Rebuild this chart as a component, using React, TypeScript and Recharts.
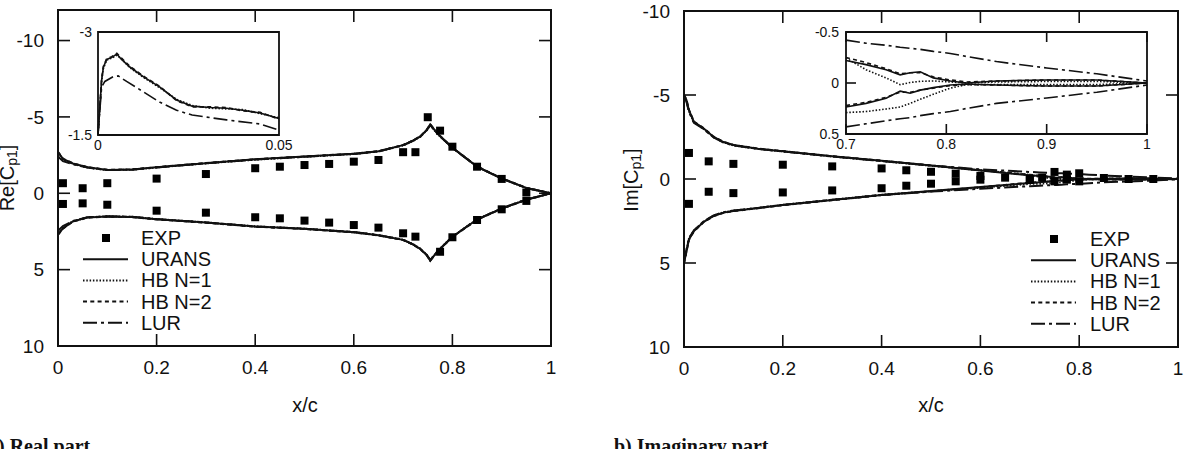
import React from 'react'
import { ComposedChart, Line, Scatter, XAxis, YAxis, CartesianGrid, ReferenceArea } from 'recharts'

const FONT = '"Liberation Sans", Arial, Helvetica, sans-serif'
const SERIF = '"Liberation Serif", "Times New Roman", serif'
const INK = '#111'

// ---- a) real part: chordwise stations and Re[Cp1] for each method ----
const RE_X = [0, 0.01, 0.03, 0.06, 0.1, 0.15, 0.2, 0.3, 0.4, 0.5, 0.6, 0.65, 0.7, 0.72, 0.735, 0.748, 0.755, 0.77, 0.8, 0.85, 0.9, 0.95, 1]
const RE_URANS_UP = [-2.7, -2.25, -1.95, -1.7, -1.53, -1.55, -1.7, -1.97, -2.22, -2.4, -2.58, -2.75, -3.15, -3.45, -3.72, -4.15, -4.5, -3.9, -2.98, -1.75, -0.97, -0.35, 0]
const RE_URANS_LO = [2.7, 2.3, 1.85, 1.58, 1.52, 1.55, 1.7, 1.92, 2.18, 2.33, 2.55, 2.75, 3.05, 3.35, 3.65, 4.05, 4.4, 3.8, 2.85, 1.72, 1.0, 0.42, 0]
const RE_HB1_UP = [-2.65, -2.22, -1.93, -1.68, -1.52, -1.54, -1.69, -1.96, -2.2, -2.39, -2.57, -2.74, -3.13, -3.43, -3.7, -4.12, -4.46, -3.88, -2.97, -1.74, -0.96, -0.34, 0]
const RE_HB1_LO = [2.65, 2.27, 1.83, 1.57, 1.51, 1.54, 1.69, 1.91, 2.17, 2.32, 2.54, 2.74, 3.04, 3.33, 3.63, 4.03, 4.37, 3.78, 2.84, 1.71, 0.99, 0.41, 0]
const RE_HB2_UP = [-2.72, -2.27, -1.96, -1.71, -1.54, -1.56, -1.71, -1.98, -2.23, -2.41, -2.59, -2.76, -3.16, -3.46, -3.73, -4.16, -4.52, -3.91, -2.99, -1.76, -0.98, -0.36, 0]
const RE_HB2_LO = [2.72, 2.32, 1.86, 1.59, 1.53, 1.56, 1.71, 1.93, 2.19, 2.34, 2.56, 2.76, 3.06, 3.36, 3.66, 4.06, 4.42, 3.81, 2.86, 1.73, 1.01, 0.43, 0]
const RE_LUR_UP = [-2.4, -2.1, -1.9, -1.68, -1.52, -1.54, -1.69, -1.96, -2.21, -2.39, -2.57, -2.74, -3.14, -3.44, -3.71, -4.13, -4.47, -3.89, -2.97, -1.74, -0.96, -0.34, 0]
const RE_LUR_LO = [2.45, 2.15, 1.82, 1.57, 1.51, 1.54, 1.69, 1.91, 2.17, 2.32, 2.54, 2.74, 3.04, 3.34, 3.64, 4.04, 4.38, 3.79, 2.84, 1.71, 0.99, 0.41, 0]

const RE_EXP_UP_X = [0.01, 0.05, 0.1, 0.2, 0.3, 0.4, 0.45, 0.5, 0.55, 0.6, 0.65, 0.7, 0.725, 0.75, 0.775, 0.8, 0.85, 0.9, 0.95]
const RE_EXP_UP = [-0.66, -0.33, -0.66, -0.96, -1.26, -1.64, -1.74, -1.85, -1.92, -2.07, -2.18, -2.69, -2.69, -4.98, -4.1, -3.05, -1.74, -0.94, -0.05]
const RE_EXP_LO_X = [0.01, 0.05, 0.1, 0.2, 0.3, 0.4, 0.45, 0.5, 0.55, 0.6, 0.65, 0.7, 0.725, 0.775, 0.8, 0.85, 0.9, 0.95]
const RE_EXP_LO = [0.7, 0.66, 0.75, 1.14, 1.27, 1.57, 1.64, 1.79, 1.92, 2.08, 2.25, 2.62, 2.84, 3.83, 2.88, 1.75, 1.05, 0.5]

// leading-edge zoom (upper surface)
const LE_X = [0, 0.001, 0.0015, 0.0024, 0.0038, 0.0052, 0.0065, 0.0088, 0.0125, 0.017, 0.0217, 0.026, 0.031, 0.0355, 0.04, 0.0448, 0.05]
const LE_URANS = [-1.5, -2.3, -2.49, -2.6, -2.63, -2.68, -2.6, -2.49, -2.35, -2.2, -2.01, -1.92, -1.9, -1.89, -1.86, -1.82, -1.74]
const LE_HB1 = [-1.5, -2.28, -2.47, -2.59, -2.62, -2.66, -2.61, -2.48, -2.34, -2.19, -2.02, -1.93, -1.89, -1.88, -1.87, -1.81, -1.75]
const LE_HB2 = [-1.5, -2.32, -2.5, -2.61, -2.64, -2.69, -2.62, -2.5, -2.36, -2.21, -2.0, -1.91, -1.91, -1.9, -1.85, -1.83, -1.73]
const LE_LUR_X = [0, 0.001, 0.0019, 0.0042, 0.0056, 0.0079, 0.0125, 0.017, 0.0217, 0.026, 0.0355, 0.0448, 0.05]
const LE_LUR = [-1.5, -2.2, -2.28, -2.35, -2.36, -2.28, -2.13, -1.98, -1.86, -1.79, -1.72, -1.66, -1.57]

// ---- b) imaginary part ----
const IM_X = [0, 0.005, 0.01, 0.02, 0.04, 0.06, 0.08, 0.1, 0.15, 0.2, 0.3, 0.4, 0.5, 0.6, 0.7, 0.72, 0.74, 0.754, 0.764, 0.774, 0.787, 0.804, 0.82, 0.85, 0.9, 0.95, 1]
const IM_URANS_UP = [-5.0, -4.7, -4.1, -3.4, -3.0, -2.5, -2.2, -2.02, -1.8, -1.65, -1.35, -1.08, -0.8, -0.5, -0.22, -0.18, -0.13, -0.08, -0.1, -0.11, -0.05, -0.02, 0, -0.02, -0.03, -0.03, 0]
const IM_URANS_LO = [5.0, 4.3, 3.6, 3.1, 2.55, 2.2, 2.0, 1.9, 1.73, 1.55, 1.25, 0.95, 0.72, 0.48, 0.235, 0.2, 0.15, 0.08, 0.1, 0.07, 0.045, 0.02, 0.01, 0.02, 0.03, 0.03, 0]
const IM_HB1_UP = [-4.95, -4.65, -4.05, -3.38, -2.98, -2.48, -2.18, -2.0, -1.79, -1.64, -1.34, -1.07, -0.79, -0.52, -0.245, -0.13, -0.05, 0.016, -0.005, -0.016, -0.02, -0.01, 0, -0.01, -0.015, -0.015, 0]
const IM_HB1_LO = [4.95, 4.25, 3.55, 3.08, 2.53, 2.18, 1.98, 1.88, 1.72, 1.54, 1.24, 0.94, 0.73, 0.52, 0.29, 0.28, 0.255, 0.235, 0.2, 0.16, 0.11, 0.05, 0.016, 0.015, 0.015, 0.015, 0]
const IM_HB2_UP = [-5.02, -4.72, -4.12, -3.42, -3.02, -2.52, -2.21, -2.03, -1.81, -1.66, -1.36, -1.09, -0.81, -0.52, -0.25, -0.2, -0.14, -0.09, -0.1, -0.1, -0.06, -0.03, -0.01, -0.02, -0.03, -0.03, 0]
const IM_HB2_LO = [5.02, 4.32, 3.62, 3.12, 2.56, 2.21, 2.01, 1.91, 1.74, 1.56, 1.26, 0.96, 0.73, 0.49, 0.22, 0.19, 0.14, 0.09, 0.09, 0.07, 0.05, 0.025, 0.015, 0.02, 0.03, 0.03, 0]
const IM_LUR_UP = [-4.9, -4.6, -4.0, -3.35, -2.97, -2.47, -2.17, -2.0, -1.79, -1.64, -1.34, -1.07, -0.8, -0.58, -0.42, -0.39, -0.37, -0.35, -0.34, -0.33, -0.31, -0.29, -0.26, -0.21, -0.147, -0.09, -0.02]
const IM_LUR_LO = [4.9, 4.2, 3.52, 3.06, 2.52, 2.17, 1.98, 1.88, 1.72, 1.54, 1.24, 0.95, 0.75, 0.58, 0.43, 0.4, 0.37, 0.35, 0.34, 0.32, 0.3, 0.28, 0.25, 0.2, 0.147, 0.09, 0.02]

const IM_EXP_UP_X = [0.01, 0.05, 0.1, 0.2, 0.3, 0.4, 0.45, 0.5, 0.55, 0.6, 0.65, 0.7, 0.725, 0.75, 0.775, 0.8, 0.85, 0.9, 0.95]
const IM_EXP_UP = [-1.55, -1.05, -0.9, -0.85, -0.75, -0.63, -0.52, -0.43, -0.32, -0.18, -0.08, 0.0, -0.08, -0.42, -0.26, -0.34, -0.06, 0, 0]
const IM_EXP_LO_X = [0.01, 0.05, 0.1, 0.2, 0.3, 0.4, 0.45, 0.5, 0.55, 0.6, 0.7, 0.75, 0.775, 0.8]
const IM_EXP_LO = [1.48, 0.76, 0.84, 0.8, 0.68, 0.55, 0.4, 0.28, 0.14, 0.04, 0.06, 0.14, 0.04, 0.14]

const X_TICKS = [0, 0.2, 0.4, 0.6, 0.8, 1]
const Y_TICKS = [-10, -5, 0, 5, 10]
const TE_TICKS_X = [0.7, 0.8, 0.9, 1]
const TE_TICKS_Y = [-0.5, 0, 0.5]
const LEGEND = ['EXP', 'URANS', 'HB N=1', 'HB N=2', 'LUR']

const DASH: Record<string, string | undefined> = {
  URANS: undefined,
  'HB N=1': '1.5 1.8',
  'HB N=2': '4 3.3',
  LUR: '14 4 3 4',
}

type Pt = { x: number; y: number }
type Series = { name: string; up: Pt[]; lo: Pt[] }

const pts = (xs: number[], ys: number[]): Pt[] => xs.map((x, i) => ({ x, y: ys[i] }))
const tail = (p: Pt[], x0: number) => p.filter((d) => d.x >= x0)

const RE_SERIES: Series[] = [
  { name: 'URANS', up: pts(RE_X, RE_URANS_UP), lo: pts(RE_X, RE_URANS_LO) },
  { name: 'HB N=1', up: pts(RE_X, RE_HB1_UP), lo: pts(RE_X, RE_HB1_LO) },
  { name: 'HB N=2', up: pts(RE_X, RE_HB2_UP), lo: pts(RE_X, RE_HB2_LO) },
  { name: 'LUR', up: pts(RE_X, RE_LUR_UP), lo: pts(RE_X, RE_LUR_LO) },
]
const LE_SERIES = [
  { name: 'URANS', data: pts(LE_X, LE_URANS) },
  { name: 'HB N=1', data: pts(LE_X, LE_HB1) },
  { name: 'HB N=2', data: pts(LE_X, LE_HB2) },
  { name: 'LUR', data: pts(LE_LUR_X, LE_LUR) },
]
const IM_SERIES: Series[] = [
  { name: 'URANS', up: pts(IM_X, IM_URANS_UP), lo: pts(IM_X, IM_URANS_LO) },
  { name: 'HB N=1', up: pts(IM_X, IM_HB1_UP), lo: pts(IM_X, IM_HB1_LO) },
  { name: 'HB N=2', up: pts(IM_X, IM_HB2_UP), lo: pts(IM_X, IM_HB2_LO) },
  { name: 'LUR', up: pts(IM_X, IM_LUR_UP), lo: pts(IM_X, IM_LUR_LO) },
]

const Square = (props: any) => {
  const { cx, cy } = props
  if (cx == null || cy == null) return <g />
  return <rect x={cx - 4} y={cy - 4} width={8} height={8} fill="#000" />
}

type Box = { top: number; bottom: number; left: number; right: number }

// gnuplot-style ticks: inward marks on both opposite edges plus the label
const xTick = (b: Box, len: number, size: number, gap: number) => (props: any) => {
  const { x, payload } = props
  return (
    <g>
      <line x1={x} x2={x} y1={b.bottom} y2={b.bottom - len} stroke={INK} strokeWidth={1.6} />
      <line x1={x} x2={x} y1={b.top} y2={b.top + len} stroke={INK} strokeWidth={1.6} />
      <text x={x} y={b.bottom + gap + size * 0.71} textAnchor="middle" fontFamily={FONT} fontSize={size} fill={INK}>
        {payload.value}
      </text>
    </g>
  )
}
const yTick = (b: Box, len: number, size: number, gap: number) => (props: any) => {
  const { y, payload } = props
  return (
    <g>
      <line x1={b.left} x2={b.left + len} y1={y} y2={y} stroke={INK} strokeWidth={1.6} />
      <line x1={b.right} x2={b.right - len} y1={y} y2={y} stroke={INK} strokeWidth={1.6} />
      <text x={b.left - gap} y={y + size * 0.355} textAnchor="end" fontFamily={FONT} fontSize={size} fill={INK}>
        {payload.value}
      </text>
    </g>
  )
}

const curveLines = (series: Series[], width: number) =>
  series.flatMap((s) =>
    [s.up, s.lo].map((d, i) => (
      <Line
        key={`${s.name}-${i}`}
        data={d}
        dataKey="y"
        type="linear"
        stroke={INK}
        strokeWidth={width}
        strokeDasharray={DASH[s.name]}
        dot={false}
        activeDot={false}
        isAnimationActive={false}
      />
    ))
  )

type MainProps = {
  left: number
  box: Box
  yDomain: [number, number]
  series: Series[]
  expUp: Pt[]
  expLo: Pt[]
}

const W = 595
const H = 400

const MainPlot = ({ left, box, yDomain, series, expUp, expLo }: MainProps) => {
  // box is in page pixels; the chart sits at page x = left
  const b = { top: box.top, bottom: box.bottom, left: box.left - left, right: box.right - left }
  return (
    <div style={{ position: 'absolute', left, top: 0 }}>
      <ComposedChart width={W} height={H} margin={{ top: b.top, right: W - b.right, left: 0, bottom: 0 }}>
        <XAxis
          type="number"
          dataKey="x"
          domain={[0, 1]}
          ticks={X_TICKS}
          height={H - b.bottom}
          axisLine={false}
          tickLine={false}
          tick={xTick(b, 12, 19, 15)}
          interval={0}
        />
        <YAxis
          type="number"
          dataKey="y"
          domain={yDomain}
          reversed
          ticks={Y_TICKS}
          width={b.left}
          axisLine={false}
          tickLine={false}
          tick={yTick(b, 12, 19, 14)}
          interval={0}
          allowDataOverflow
        />
        {curveLines(series, 2)}
        <Scatter data={expUp} dataKey="y" shape={Square} isAnimationActive={false} />
        <Scatter data={expLo} dataKey="y" shape={Square} isAnimationActive={false} />
        <ReferenceArea x1={0} x2={1} y1={yDomain[0]} y2={yDomain[1]} fill="none" fillOpacity={0} stroke={INK} strokeWidth={2} ifOverflow="visible" />
      </ComposedChart>
    </div>
  )
}

const insetText = { fontSize: 14, fill: INK, fontFamily: FONT }

// leading-edge detail of the real part
const LeadingEdgeInset = () => (
  <div style={{ position: 'absolute', left: 60, top: 20 }}>
    <ComposedChart width={245} height={140} margin={{ top: 12, right: 26, left: 0, bottom: 0 }}>
      <CartesianGrid horizontal={false} vertical={false} fill="#fff" />
      <XAxis type="number" dataKey="x" domain={[0, 0.05]} ticks={[0, 0.05]} height={25} axisLine={false} tickLine={false} tickSize={0} tickMargin={5} tick={insetText} interval={0} />
      <YAxis type="number" dataKey="y" domain={[-3, -1.5]} reversed ticks={[-3, -1.5]} width={38} axisLine={false} tickLine={false} tickSize={0} tickMargin={6} tick={insetText} interval={0} />
      {LE_SERIES.map((s) => (
        <Line
          key={s.name}
          data={s.data}
          dataKey="y"
          type="linear"
          stroke={INK}
          strokeWidth={1.6}
          strokeDasharray={DASH[s.name]}
          dot={false}
          activeDot={false}
          isAnimationActive={false}
        />
      ))}
      <ReferenceArea x1={0} x2={0.05} y1={-3} y2={-1.5} fill="none" fillOpacity={0} stroke={INK} strokeWidth={1.8} ifOverflow="visible" />
    </ComposedChart>
  </div>
)

// trailing-edge detail of the imaginary part
const TE_BOX: Box = { top: 12, bottom: 114, left: 56, right: 357 }
const TrailingEdgeInset = () => (
  <div style={{ position: 'absolute', left: 790, top: 20 }}>
    <ComposedChart width={370} height={140} margin={{ top: TE_BOX.top, right: 370 - TE_BOX.right, left: 0, bottom: 0 }}>
      <CartesianGrid horizontal={false} vertical={false} fill="#fff" />
      <XAxis type="number" dataKey="x" domain={[0.7, 1]} ticks={TE_TICKS_X} height={140 - TE_BOX.bottom} axisLine={false} tickLine={false} tick={xTick(TE_BOX, 10, 14, 5)} interval={0} />
      <YAxis type="number" dataKey="y" domain={[-0.5, 0.5]} reversed ticks={TE_TICKS_Y} width={TE_BOX.left} axisLine={false} tickLine={false} tick={yTick(TE_BOX, 10, 14, 7)} interval={0} />
      {curveLines(
        IM_SERIES.map((s) => ({ name: s.name, up: tail(s.up, 0.7), lo: tail(s.lo, 0.7) })),
        1.6
      )}
      <ReferenceArea x1={0.7} x2={1} y1={-0.5} y2={0.5} fill="none" fillOpacity={0} stroke={INK} strokeWidth={1.8} ifOverflow="visible" />
    </ComposedChart>
  </div>
)

const LegendBox = ({ markX, textX, top }: { markX: number; textX: number; top: number }) => (
  <g fontFamily={FONT} fontSize={20} fill={INK}>
    {LEGEND.map((name, i) => {
      const y = top + i * 21.2
      return (
        <g key={name}>
          {name === 'EXP' ? (
            <rect x={markX - 4} y={y - 4} width={8} height={8} fill="#000" />
          ) : (
            <line x1={markX - 23} x2={markX + 22} y1={y} y2={y} stroke={INK} strokeWidth={2} strokeDasharray={DASH[name]} />
          )}
          <text x={textX} y={y} dominantBaseline="central">
            {name}
          </text>
        </g>
      )
    })}
  </g>
)

const YTitle = ({ x, y, head }: { x: number; y: number; head: string }) => (
  <text transform={`translate(${x},${y}) rotate(-90)`} textAnchor="middle" dominantBaseline="central" fontFamily={FONT} fontSize={20} fill={INK}>
    {head}[C
    <tspan fontSize={14} dy={5}>
      p1
    </tspan>
    <tspan dy={-5}>]</tspan>
  </text>
)

export default function App() {
  return (
    <div style={{ position: 'fixed', left: 0, top: 0, width: 1190, height: 449, overflow: 'hidden', background: '#fff' }}>
      <MainPlot
        left={0}
        box={{ top: 10, bottom: 346, left: 58, right: 551 }}
        yDomain={[-12, 10]}
        series={RE_SERIES}
        expUp={pts(RE_EXP_UP_X, RE_EXP_UP)}
        expLo={pts(RE_EXP_LO_X, RE_EXP_LO)}
      />
      <MainPlot
        left={595}
        box={{ top: 11, bottom: 347, left: 684, right: 1178 }}
        yDomain={[-10, 10]}
        series={IM_SERIES}
        expUp={pts(IM_EXP_UP_X, IM_EXP_UP)}
        expLo={pts(IM_EXP_LO_X, IM_EXP_LO)}
      />
      <LeadingEdgeInset />
      <TrailingEdgeInset />
      <svg width={1190} height={449} style={{ position: 'absolute', left: 0, top: 0, pointerEvents: 'none' }}>
        <YTitle x={7} y={178} head="Re" />
        <YTitle x={631} y={180} head="Im" />
        <text x={305} y={405} textAnchor="middle" dominantBaseline="central" fontFamily={FONT} fontSize={20} fill={INK}>
          x/c
        </text>
        <text x={931} y={405} textAnchor="middle" dominantBaseline="central" fontFamily={FONT} fontSize={20} fill={INK}>
          x/c
        </text>
        <LegendBox markX={106} textX={141} top={238} />
        <LegendBox markX={1054} textX={1090} top={239} />
        <text x={-12} y={453} fontFamily={SERIF} fontWeight="bold" fontSize={20} fill={INK}>
          a) Real part
        </text>
        <text x={614} y={453} fontFamily={SERIF} fontWeight="bold" fontSize={20} fill={INK}>
          b) Imaginary part
        </text>
      </svg>
    </div>
  )
}
